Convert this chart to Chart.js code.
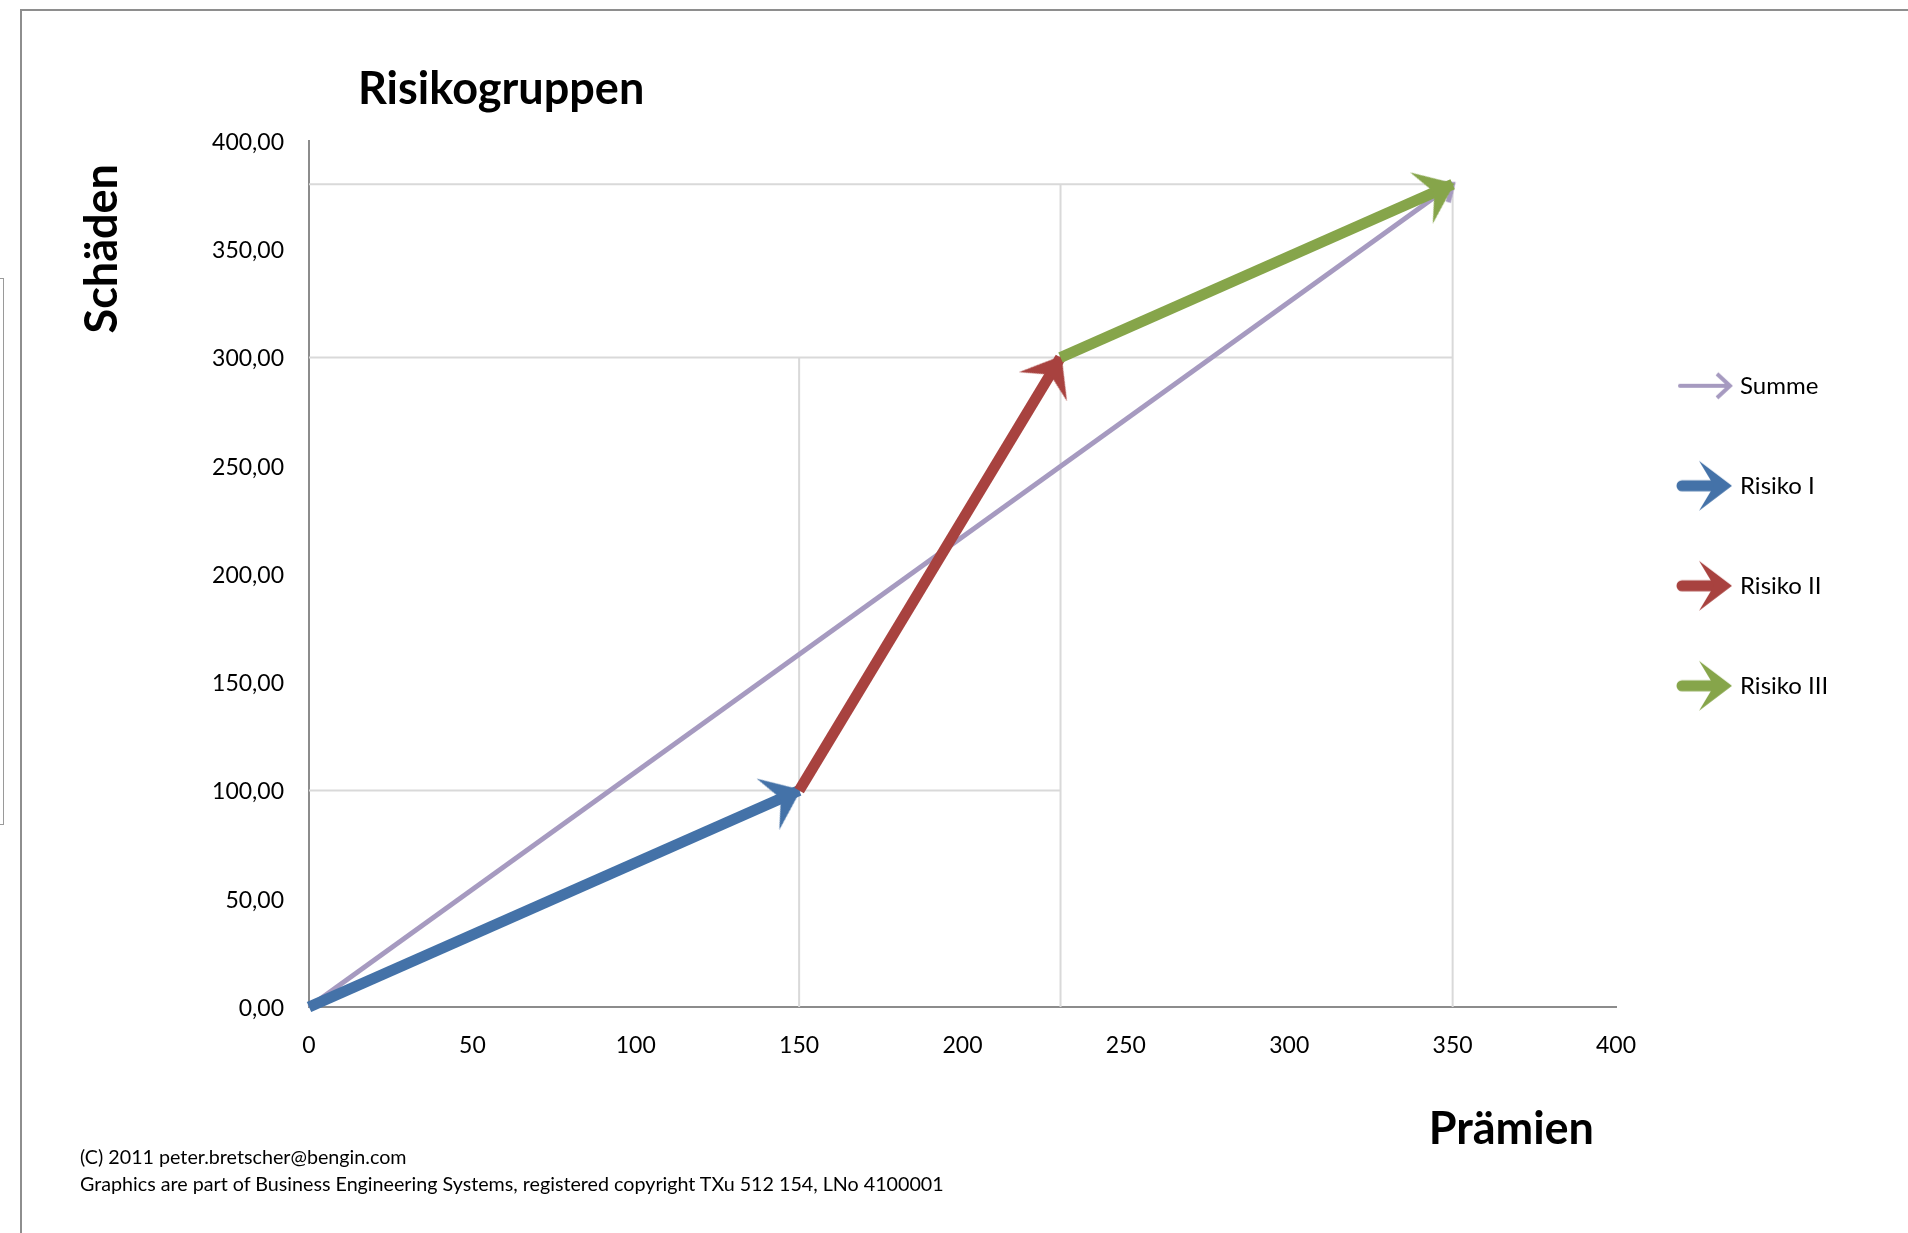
<!DOCTYPE html>
<html lang="de">
<head>
<meta charset="utf-8">
<title>Risikogruppen</title>
<script src="https://cdn.jsdelivr.net/npm/chart.js@4.4.1/dist/chart.umd.min.js"></script>
<style>
  html, body { margin: 0; padding: 0; background: #fff; overflow: hidden; }
  body { width: 1908px; height: 1233px; position: relative; font-family: Lato, 'Open Sans', sans-serif; color: #000; }
  .frame { position: absolute; left: 20px; top: 9px; width: 1920px; height: 1260px; border: 2px solid #8e8e8e; box-sizing: border-box; }
  .side-box { position: absolute; left: -10px; top: 278px; width: 14px; height: 547px; border: 1px solid #9a9a9a; box-sizing: border-box; }
  #chart { position: absolute; left: 0; top: 0; }
  .title { position: absolute; left: 358px; top: 65px; font-weight: 700; font-size: 45px; line-height: 45px; }
  .axis-title { position: absolute; width: 300px; text-align: right; font-weight: 700; font-size: 45px; line-height: 45px; white-space: nowrap; }
  .y-title { left: 78px; top: 464px; transform-origin: 0 0; transform: rotate(-90deg); }
  .x-title { left: 1294px; top: 1105px; }
  .footer { position: absolute; left: 80px; top: 1143px; font-size: 19.7px; line-height: 27px; white-space: nowrap; }
</style>
</head>
<body>
<div class="side-box"></div>
<div class="frame"></div>
<canvas id="chart" width="1908" height="1233"></canvas>
<div class="title">Risikogruppen</div>
<div class="axis-title y-title">Schäden</div>
<div class="axis-title x-title">Prämien</div>
<div class="footer">(C) 2011 peter.bretscher@bengin.com<br>Graphics are part of Business Engineering Systems, registered copyright TXu 512 154, LNo 4100001</div>
<script>
// Pfeile: Start- und Endpunkt je Reihe (Prämien / Schäden)
const seriesNames = ['Summe', 'Risiko I', 'Risiko II', 'Risiko III'];
const praemienVon = [0, 0, 150, 230];
const schaedenVon = [0, 0, 100, 300];
const praemienBis = [350, 150, 230, 350];
const schaedenBis = [380, 100, 300, 380];

// Hilfslinien
const senkrechtBei = [150, 230, 350];
const senkrechtBis = [300, 380, 380];
const waagrechtBei = [100, 300, 380];
const waagrechtBis = [230, 350, 350];

// Achsen
const xMax = 400;
const yMax = 400;
const tickStep = 50;

const seriesColors = ['#a69ac0', '#4472a8', '#a8423f', '#86a54a'];
const lineWidths = [5, 11, 11, 11];
const drawOrder = [4, 3, 2, 1];

Chart.defaults.font.family = 'Lato';
Chart.defaults.color = '#000';

// Pfeilspitze, Spitze (fast) in der Bildmitte -> liegt auf dem Datenpunkt
function makeHead(i) {
  const c = document.createElement('canvas');
  c.width = 76; c.height = 60;
  const g = c.getContext('2d');
  g.fillStyle = g.strokeStyle = seriesColors[i];
  if (i === 0) {
    g.lineWidth = 5;
    g.beginPath();
    g.moveTo(24, 18); g.lineTo(38, 30); g.lineTo(24, 42);
    g.stroke();
  } else {
    g.beginPath();
    g.moveTo(40, 30); g.lineTo(4, 2); g.lineTo(18, 30); g.lineTo(4, 58);
    g.closePath();
    g.fill();
  }
  return c;
}

// Legendensymbol mit Schaft
function makeIcon(i) {
  const c = document.createElement('canvas');
  c.width = 68; c.height = 56;
  const g = c.getContext('2d');
  g.fillStyle = g.strokeStyle = seriesColors[i];
  g.lineCap = 'round';
  if (i === 0) {
    g.lineWidth = 4;
    g.beginPath(); g.moveTo(4, 28); g.lineTo(53, 28); g.stroke();
    g.lineCap = 'butt';
    g.beginPath(); g.moveTo(41, 16); g.lineTo(54, 28); g.lineTo(41, 40); g.stroke();
  } else {
    g.lineWidth = 11;
    g.beginPath(); g.moveTo(6, 28); g.lineTo(42, 28); g.stroke();
    g.beginPath();
    g.moveTo(56, 28); g.lineTo(23, 3); g.lineTo(38, 28); g.lineTo(23, 53);
    g.closePath();
    g.fill();
  }
  return c;
}

const heads = seriesNames.map((n, i) => makeHead(i));
const icons = seriesNames.map((n, i) => makeIcon(i));

function headRotation(ctx) {
  const d = ctx.dataset.data;
  const xs = ctx.chart.scales.x;
  const ys = ctx.chart.scales.y;
  const dx = xs.getPixelForValue(d[1].x) - xs.getPixelForValue(d[0].x);
  const dy = ys.getPixelForValue(d[1].y) - ys.getPixelForValue(d[0].y);
  return Math.atan2(dy, dx) * 180 / Math.PI;
}

const arrowSets = seriesNames.map((name, i) => ({
  label: name,
  data: [{ x: praemienVon[i], y: schaedenVon[i] }, { x: praemienBis[i], y: schaedenBis[i] }],
  showLine: true,
  borderColor: seriesColors[i],
  backgroundColor: seriesColors[i],
  borderWidth: lineWidths[i],
  borderCapStyle: 'butt',
  pointStyle: heads[i],
  pointRadius: ctx => ctx.dataIndex === 1 ? 5 : 0,
  pointRotation: headRotation,
  order: drawOrder[i],
  clip: false
}));

const guide = (pts) => ({
  label: '', guide: true, data: pts, showLine: true,
  borderColor: '#d9d9d9', borderWidth: 2, pointRadius: 0, order: 5
});
const guideSets = [
  ...senkrechtBei.map((x, i) => guide([{ x, y: 0 }, { x, y: senkrechtBis[i] }])),
  ...waagrechtBei.map((y, i) => guide([{ x: 0, y }, { x: waagrechtBis[i], y }]))
];

new Chart(document.getElementById('chart'), {
  type: 'scatter',
  data: { datasets: [...arrowSets, ...guideSets] },
  options: {
    responsive: false,
    animation: false,
    events: [],
    layout: { padding: { top: 141, left: 0, right: 72, bottom: 76 } },
    plugins: {
      tooltip: { enabled: false },
      legend: {
        position: 'right',
        align: 'start',
        fullSize: false,
        maxWidth: 220,
        // leerer Titel schiebt die Einträge nach unten
        title: { display: true, text: '', font: { size: 24 }, padding: { top: 128, bottom: 0 } },
        labels: {
          usePointStyle: true,
          pointStyleWidth: 36,
          padding: 76,
          font: { size: 24 },
          color: '#000',
          generateLabels: chart => Chart.defaults.plugins.legend.labels.generateLabels(chart)
            .filter(item => !chart.data.datasets[item.datasetIndex].guide)
            .sort((a, b) => a.datasetIndex - b.datasetIndex)
            .map(item => Object.assign(item, { pointStyle: icons[item.datasetIndex], rotation: 0 }))
        }
      }
    },
    scales: {
      x: {
        min: 0, max: xMax,
        grid: { display: false, drawTicks: false },
        border: { display: true, color: '#8c8c8c', width: 2 },
        ticks: { stepSize: tickStep, padding: 24.5, font: { size: 23 }, color: '#000' },
        afterFit: s => { s.height = 150; }
      },
      y: {
        min: 0, max: yMax,
        grid: { display: false, drawTicks: false },
        border: { display: true, color: '#8c8c8c', width: 2 },
        ticks: {
          stepSize: tickStep, padding: 25, labelOffset: 1.5, font: { size: 23 }, color: '#000',
          callback: v => v.toFixed(2).replace('.', ',')
        },
        afterFit: s => { s.width = 309; }
      }
    }
  }
});
</script>
</body>
</html>
